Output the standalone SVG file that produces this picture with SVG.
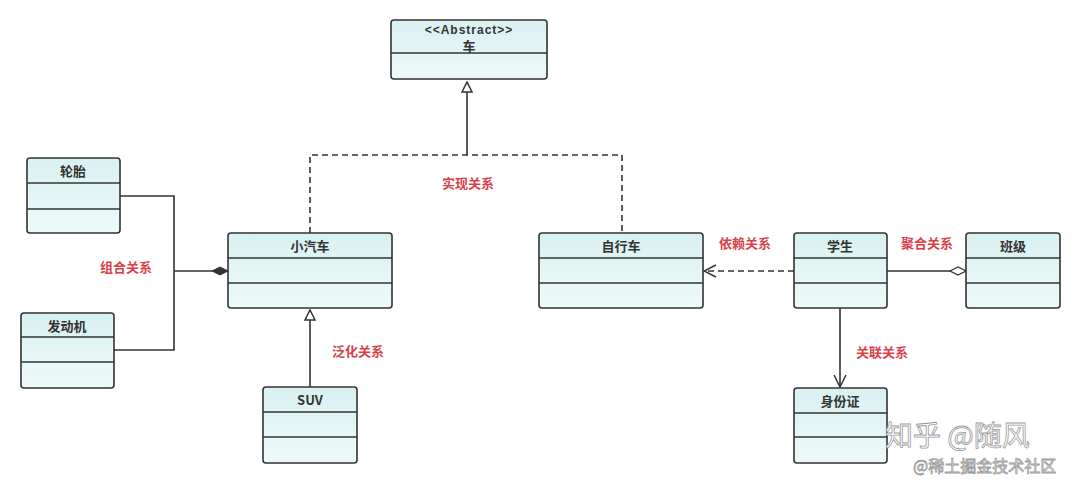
<svg xmlns="http://www.w3.org/2000/svg" width="1080" height="483" viewBox="0 0 1080 483">
<defs>
<linearGradient id="g" x1="0" y1="0" x2="0" y2="1">
<stop offset="0" stop-color="#d9f1f1"/>
<stop offset="1" stop-color="#eefafa"/>
</linearGradient>
<marker id="tri" viewBox="0 0 12 12" refX="11" refY="6" markerWidth="12" markerHeight="12" markerUnits="userSpaceOnUse" orient="auto">
<path d="M1,1 L11,6 L1,11 Z" fill="#fff" stroke="#333" stroke-width="1.5"/>
</marker>
<marker id="open" viewBox="0 0 14 14" refX="13" refY="7" markerWidth="14" markerHeight="14" markerUnits="userSpaceOnUse" orient="auto">
<path d="M1,1 L13,7 L1,13" fill="none" stroke="#333" stroke-width="1.5"/>
</marker>
<marker id="dfill" viewBox="0 0 18 10" refX="17" refY="5" markerWidth="18" markerHeight="10" markerUnits="userSpaceOnUse" orient="auto">
<path d="M1,5 L9,1 L17,5 L9,9 Z" fill="#333" stroke="#333" stroke-width="1"/>
</marker>
<marker id="dhollow" viewBox="0 0 18 10" refX="17" refY="5" markerWidth="18" markerHeight="10" markerUnits="userSpaceOnUse" orient="auto">
<path d="M1,5 L9,1 L17,5 L9,9 Z" fill="#fff" stroke="#333" stroke-width="1.3"/>
</marker>
</defs>
<style>
.box{fill:url(#g);stroke:#333;stroke-width:1.6}
.div{stroke:#333;stroke-width:1.6}
.t{font-family:"Noto Sans CJK SC","Noto Sans",sans-serif;font-weight:bold;font-size:13px;fill:#333;text-anchor:middle}
.lat{font-family:"Liberation Sans",Arial,sans-serif;font-weight:bold;font-size:12px;fill:#333;text-anchor:middle}
.lbl{font-family:"Noto Sans CJK SC",sans-serif;font-weight:bold;font-size:13px;fill:#d9414a;text-anchor:middle}
.ln{fill:none;stroke:#333;stroke-width:1.6}
.dash{stroke-dasharray:6,4}
.wm{font-family:"Noto Sans CJK SC",sans-serif;fill:#fff;stroke:#9a9a9a;stroke-width:0.8}
</style>
<rect width="1080" height="483" fill="#fff"/>

<g id="connectors">
<path class="ln" d="M467,155 V82" marker-end="url(#tri)"/>
<path class="ln dash" d="M310,233 V155 H622 V233"/>
<path class="ln" d="M120,196 H174 V350 H114"/>
<path class="ln" d="M174,271 H228" marker-end="url(#dfill)"/>
<path class="ln" d="M310,387 V310" marker-end="url(#tri)"/>
<path class="ln dash" d="M794,271 H704" marker-end="url(#open)"/>
<path class="ln" d="M887,271 H966" marker-end="url(#dhollow)"/>
<path class="ln" d="M840,308 V387" marker-end="url(#open)"/>
</g>

<g id="labels">
<text class="lbl" x="468" y="188">实现关系</text>
<text class="lbl" x="126" y="272">组合关系</text>
<text class="lbl" x="358" y="356">泛化关系</text>
<text class="lbl" x="745" y="248">依赖关系</text>
<text class="lbl" x="927" y="248">聚合关系</text>
<text class="lbl" x="882" y="357">关联关系</text>
</g>

<g id="abstract-car">
<rect class="box" x="391" y="20" width="156" height="59" rx="3"/>
<line class="div" x1="391" y1="53" x2="547" y2="53"/>
<text class="lat" x="469" y="34" letter-spacing="1">&lt;&lt;Abstract&gt;&gt;</text>
<text class="t" x="469" y="51" font-size="12">车</text>
</g>

<g id="tire">
<rect class="box" x="27" y="158" width="93" height="75" rx="3"/>
<line class="div" x1="27" y1="183" x2="120" y2="183"/>
<line class="div" x1="27" y1="209" x2="120" y2="209"/>
<text class="t" x="73" y="176">轮胎</text>
</g>

<g id="engine">
<rect class="box" x="21" y="313" width="93" height="75" rx="3"/>
<line class="div" x1="21" y1="337" x2="114" y2="337"/>
<line class="div" x1="21" y1="362" x2="114" y2="362"/>
<text class="t" x="67" y="331">发动机</text>
</g>

<g id="car">
<rect class="box" x="228" y="233" width="164" height="75" rx="3"/>
<line class="div" x1="228" y1="258" x2="392" y2="258"/>
<line class="div" x1="228" y1="283" x2="392" y2="283"/>
<text class="t" x="310" y="251">小汽车</text>
</g>

<g id="suv">
<rect class="box" x="263" y="387" width="94" height="76" rx="3"/>
<line class="div" x1="263" y1="412" x2="357" y2="412"/>
<line class="div" x1="263" y1="437" x2="357" y2="437"/>
<text class="t" x="310" y="405">SUV</text>
</g>

<g id="bicycle">
<rect class="box" x="539" y="233" width="164" height="75" rx="3"/>
<line class="div" x1="539" y1="258" x2="703" y2="258"/>
<line class="div" x1="539" y1="283" x2="703" y2="283"/>
<text class="t" x="621" y="251">自行车</text>
</g>

<g id="student">
<rect class="box" x="794" y="233" width="93" height="75" rx="3"/>
<line class="div" x1="794" y1="258" x2="887" y2="258"/>
<line class="div" x1="794" y1="283" x2="887" y2="283"/>
<text class="t" x="840" y="251">学生</text>
</g>

<g id="class">
<rect class="box" x="966" y="233" width="94" height="75" rx="3"/>
<line class="div" x1="966" y1="258" x2="1060" y2="258"/>
<line class="div" x1="966" y1="283" x2="1060" y2="283"/>
<text class="t" x="1013" y="251">班级</text>
</g>

<g id="idcard">
<rect class="box" x="794" y="388" width="93" height="75" rx="3"/>
<line class="div" x1="794" y1="413" x2="887" y2="413"/>
<line class="div" x1="794" y1="437" x2="887" y2="437"/>
<text class="t" x="840" y="406">身份证</text>
</g>

<g id="watermark">
<text class="wm" x="885" y="446" font-size="28">知乎 @随风</text>
<text class="wm" x="913" y="472" font-size="16" fill="#f4f4f4" stroke-width="0.5">@稀土掘金技术社区</text>
</g>
</svg>
